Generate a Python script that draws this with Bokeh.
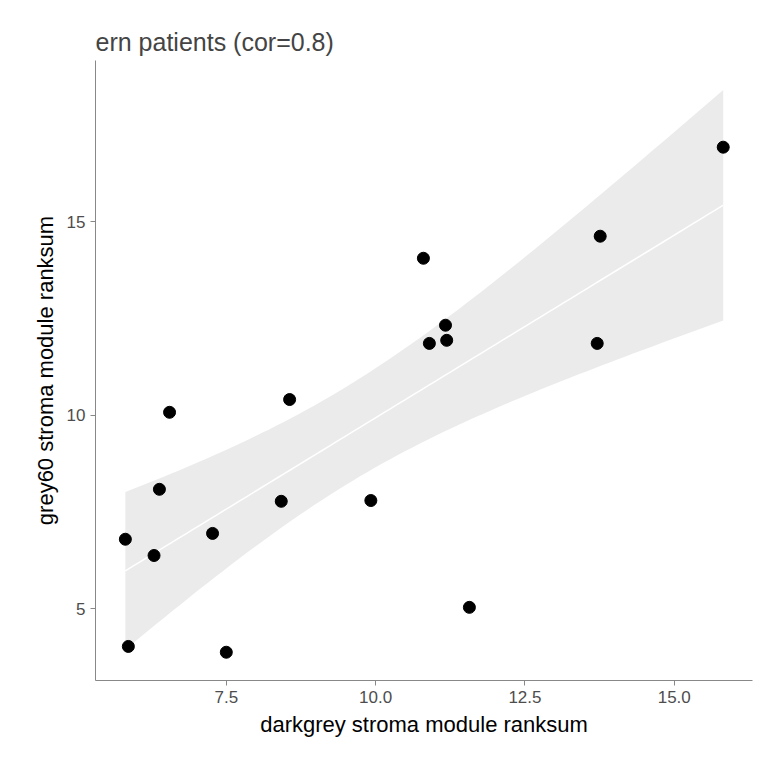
import numpy as np
from bokeh.plotting import figure
from bokeh.models import Range1d, FixedTicker
from bokeh.embed import file_html
from bokeh.resources import INLINE

x = [5.81, 5.86, 6.29, 6.38, 6.55, 7.27, 7.50, 8.42, 8.56, 9.92, 10.80, 10.90, 11.17, 11.19, 11.57, 13.71, 13.76, 15.82]
y = [6.80, 4.03, 6.38, 8.09, 10.08, 6.95, 3.88, 7.78, 10.41, 7.80, 14.06, 11.86, 12.33, 11.94, 5.04, 11.86, 14.63, 16.93]

xa, ya = np.array(x), np.array(y)
n = len(xa)
b, a = np.polyfit(xa, ya, 1)
res = ya - (a + b * xa)
s = np.sqrt((res ** 2).sum() / (n - 2))
xs = np.linspace(xa.min(), xa.max(), 80)
fit = a + b * xs
se = s * np.sqrt(1 / n + (xs - xa.mean()) ** 2 / ((xa - xa.mean()) ** 2).sum())
t = 2.12

p = figure(frame_width=657, frame_height=620, min_border_left=95, min_border_top=60,
           min_border_right=8, min_border_bottom=72, output_backend="svg",
           toolbar_location=None, x_range=Range1d(5.31, 16.31), y_range=Range1d(3.15, 19.17))
p.title.text = "ern patients (cor=0.8)"
p.title.text_font = "Liberation Sans"
p.title.text_font_style = "normal"
p.title.text_font_size = "25px"
p.title.offset = 0
p.grid.visible = False
p.outline_line_color = None
p.varea(x=xs, y1=fit - t * se, y2=fit + t * se, fill_color="#ebebeb")
p.line(xs, fit, line_color="white", line_width=1.5)
p.scatter(x, y, size=12, color="black")
p.xaxis.ticker = FixedTicker(ticks=[7.5, 10.0, 12.5, 15.0])
p.yaxis.ticker = FixedTicker(ticks=[5, 10, 15])
p.xaxis.major_label_overrides = {7.5: "7.5", 10.0: "10.0", 12.5: "12.5", 15.0: "15.0"}
p.xaxis.axis_label = "darkgrey stroma module ranksum"
p.yaxis.axis_label = "grey60 stroma module ranksum"
for ax in (p.xaxis[0], p.yaxis[0]):
    ax.axis_label_text_font = "Liberation Sans"
    ax.axis_label_text_font_size = "22px"
    ax.axis_label_text_font_style = "normal"
    ax.axis_label_text_color = "black"
    ax.major_label_text_font = "Liberation Sans"
    ax.major_label_text_font_size = "17px"
    ax.major_label_text_color = "#4d4d4d"
    ax.axis_line_color = "#888888"
    ax.major_tick_line_color = "#888888"
    ax.minor_tick_line_color = None
    ax.major_tick_in = 0
    ax.major_tick_out = 5
    ax.axis_label_standoff = 6
open("out.html", "w").write(file_html(p, INLINE))
